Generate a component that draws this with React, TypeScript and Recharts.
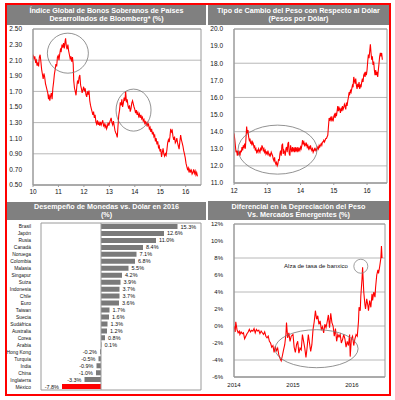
import React from 'react';
import {
  LineChart, Line, XAxis, YAxis, CartesianGrid, ReferenceArea, ReferenceDot, ReferenceLine,
  BarChart, Bar, Cell, LabelList,
} from 'recharts';

const FONT = '"Liberation Sans", Arial, sans-serif';

// ---------- Panel 1: Bloomberg developed sovereign bond index (%) ----------
const bondSeries: [number, number][] = [
  [10.00, 2.17], [10.04, 2.12], [10.07, 2.15], [10.10, 2.08], [10.13, 2.10], [10.16, 2.03], [10.19, 2.06],
  [10.22, 2.02], [10.25, 2.14], [10.28, 2.17], [10.31, 2.08], [10.34, 1.98], [10.37, 1.92], [10.40, 1.86],
  [10.43, 1.93], [10.46, 1.88], [10.49, 1.80], [10.52, 1.76], [10.55, 1.72], [10.58, 1.68], [10.61, 1.60],
  [10.63, 1.66], [10.66, 1.58], [10.69, 1.64], [10.72, 1.68], [10.75, 1.60], [10.78, 1.74], [10.81, 1.82],
  [10.84, 1.92], [10.87, 1.98], [10.90, 2.05], [10.93, 2.02], [10.96, 2.14], [10.99, 2.16], [11.02, 2.10],
  [11.05, 2.18], [11.08, 2.24], [11.11, 2.22], [11.14, 2.30], [11.17, 2.26], [11.20, 2.32], [11.23, 2.25],
  [11.26, 2.34], [11.28, 2.38], [11.31, 2.28], [11.34, 2.24], [11.37, 2.30], [11.40, 2.22], [11.43, 2.17],
  [11.46, 2.12], [11.49, 2.15], [11.52, 2.08], [11.55, 2.14], [11.58, 2.05], [11.60, 1.84], [11.63, 1.74],
  [11.66, 1.70], [11.69, 1.65], [11.72, 1.76], [11.75, 1.84], [11.78, 1.80], [11.81, 1.88], [11.84, 1.91],
  [11.87, 1.78], [11.90, 1.74], [11.93, 1.68], [11.96, 1.72], [11.99, 1.76], [12.02, 1.70], [12.05, 1.74],
  [12.08, 1.66], [12.11, 1.63], [12.14, 1.70], [12.17, 1.66], [12.20, 1.71], [12.23, 1.58], [12.26, 1.52],
  [12.29, 1.48], [12.32, 1.44], [12.35, 1.40], [12.38, 1.44], [12.41, 1.36], [12.44, 1.40], [12.47, 1.31],
  [12.50, 1.28], [12.53, 1.33], [12.56, 1.27], [12.59, 1.30], [12.62, 1.26], [12.65, 1.31], [12.68, 1.27],
  [12.71, 1.30], [12.74, 1.33], [12.77, 1.26], [12.80, 1.28], [12.83, 1.24], [12.86, 1.27], [12.89, 1.22],
  [12.92, 1.25], [12.95, 1.30], [12.98, 1.26], [13.01, 1.30], [13.04, 1.33], [13.07, 1.36], [13.10, 1.30],
  [13.13, 1.27], [13.16, 1.32], [13.19, 1.26], [13.22, 1.20], [13.25, 1.17], [13.28, 1.15], [13.31, 1.11],
  [13.34, 1.26], [13.37, 1.40], [13.40, 1.46], [13.43, 1.56], [13.46, 1.52], [13.49, 1.60], [13.52, 1.50],
  [13.55, 1.55], [13.58, 1.62], [13.61, 1.58], [13.64, 1.70], [13.67, 1.56], [13.70, 1.60], [13.73, 1.52],
  [13.76, 1.48], [13.79, 1.52], [13.82, 1.44], [13.85, 1.48], [13.88, 1.55], [13.91, 1.58], [13.94, 1.54],
  [13.97, 1.50], [14.00, 1.47], [14.03, 1.42], [14.06, 1.46], [14.09, 1.40], [14.12, 1.43], [14.15, 1.38],
  [14.18, 1.41], [14.21, 1.36], [14.24, 1.40], [14.27, 1.35], [14.30, 1.37], [14.33, 1.32], [14.36, 1.34],
  [14.39, 1.29], [14.42, 1.31], [14.45, 1.27], [14.48, 1.30], [14.51, 1.26], [14.54, 1.28], [14.57, 1.22],
  [14.60, 1.24], [14.63, 1.18], [14.66, 1.22], [14.69, 1.15], [14.72, 1.18], [14.75, 1.12], [14.78, 1.14],
  [14.81, 1.06], [14.84, 1.10], [14.87, 1.02], [14.90, 1.06], [14.93, 0.98], [14.96, 1.00], [14.99, 0.93],
  [15.02, 0.96], [15.05, 0.86], [15.08, 0.92], [15.11, 0.97], [15.14, 0.90], [15.17, 0.87], [15.20, 0.90],
  [15.23, 0.88], [15.26, 0.95], [15.29, 1.04], [15.32, 1.08], [15.35, 1.05], [15.38, 1.12], [15.41, 1.22],
  [15.44, 1.18], [15.47, 1.20], [15.50, 1.12], [15.53, 1.08], [15.56, 1.12], [15.59, 1.04], [15.62, 1.06],
  [15.65, 1.10], [15.68, 1.04], [15.71, 1.00], [15.74, 0.96], [15.77, 1.06], [15.80, 1.14], [15.83, 1.08],
  [15.86, 1.04], [15.89, 1.00], [15.92, 0.94], [15.95, 0.90], [15.98, 0.85], [16.01, 0.78], [16.04, 0.74],
  [16.07, 0.70], [16.10, 0.72], [16.13, 0.66], [16.16, 0.70], [16.19, 0.67], [16.22, 0.69], [16.25, 0.64],
  [16.28, 0.66], [16.31, 0.70], [16.34, 0.65], [16.37, 0.68], [16.40, 0.63], [16.43, 0.66], [16.46, 0.61],
];
const bondXTicks = [10, 11, 12, 13, 14, 15, 16];
const bondYTicks = [0.5, 0.7, 0.9, 1.1, 1.3, 1.5, 1.7, 1.9, 2.1, 2.3, 2.5];
const bondCircles: [number, number][] = [[11.37, 2.19], [13.95, 1.46]];

// ---------- Panel 2: Peso per dollar ----------
const pesoSeries: [number, number][] = [
  [12.00, 13.9], [12.02, 13.6], [12.04, 13.2], [12.06, 12.8], [12.08, 12.9], [12.10, 12.6], [12.12, 12.9],
  [12.14, 12.7], [12.16, 12.8], [12.18, 12.6], [12.20, 12.9], [12.22, 12.8], [12.24, 13.1], [12.26, 12.9],
  [12.28, 13.2], [12.30, 13.1], [12.32, 13.3], [12.34, 13.0], [12.36, 13.6], [12.38, 14.3], [12.40, 13.9],
  [12.42, 14.1], [12.44, 13.7], [12.46, 13.5], [12.48, 13.6], [12.50, 13.3], [12.52, 13.4], [12.54, 13.2],
  [12.56, 13.4], [12.58, 13.3], [12.60, 13.1], [12.62, 13.2], [12.64, 12.9], [12.66, 13.0], [12.68, 12.8],
  [12.70, 12.9], [12.72, 12.8], [12.74, 13.0], [12.76, 12.9], [12.78, 12.8], [12.80, 13.0], [12.82, 12.9],
  [12.84, 13.2], [12.86, 13.1], [12.88, 12.9], [12.90, 13.0], [12.92, 12.8], [12.94, 12.9], [12.96, 12.7],
  [12.98, 12.8], [13.00, 12.7], [13.02, 12.9], [13.04, 12.7], [13.06, 12.6], [13.08, 12.7], [13.10, 12.6],
  [13.12, 12.8], [13.14, 12.7], [13.16, 12.6], [13.18, 12.4], [13.20, 12.3], [13.22, 12.5], [13.24, 12.2],
  [13.26, 12.1], [13.28, 12.2], [13.30, 12.0], [13.32, 12.1], [13.34, 12.4], [13.36, 12.3], [13.38, 12.7],
  [13.40, 12.9], [13.42, 12.6], [13.44, 13.2], [13.46, 13.3], [13.48, 12.7], [13.50, 12.9], [13.52, 12.8],
  [13.54, 12.6], [13.56, 13.0], [13.58, 13.1], [13.60, 12.8], [13.62, 13.3], [13.64, 13.4], [13.66, 12.7],
  [13.68, 12.6], [13.70, 13.2], [13.72, 13.0], [13.74, 12.8], [13.76, 13.1], [13.78, 12.9], [13.80, 13.0],
  [13.82, 12.8], [13.84, 13.1], [13.86, 12.9], [13.88, 13.0], [13.90, 12.8], [13.92, 13.1], [13.94, 12.9],
  [13.96, 13.0], [13.98, 12.9], [14.00, 13.1], [14.02, 13.0], [14.04, 13.2], [14.06, 13.5], [14.08, 13.3],
  [14.10, 13.4], [14.12, 13.2], [14.14, 13.3], [14.16, 13.2], [14.18, 13.3], [14.20, 13.1], [14.22, 13.2],
  [14.24, 13.0], [14.26, 13.1], [14.28, 13.0], [14.30, 13.2], [14.32, 13.0], [14.34, 12.9], [14.36, 13.0],
  [14.38, 12.8], [14.40, 12.9], [14.42, 13.0], [14.44, 12.9], [14.46, 13.0], [14.48, 12.9], [14.50, 13.0],
  [14.52, 13.1], [14.54, 13.0], [14.56, 13.2], [14.58, 13.1], [14.60, 13.2], [14.62, 13.3], [14.64, 13.2],
  [14.66, 13.4], [14.68, 13.4], [14.70, 13.5], [14.72, 13.4], [14.74, 13.5], [14.76, 13.6], [14.78, 13.6],
  [14.80, 13.7], [14.82, 13.8], [14.84, 14.3], [14.86, 14.8], [14.88, 14.7], [14.90, 14.8], [14.92, 14.6],
  [14.94, 14.9], [14.96, 14.7], [14.98, 14.6], [15.00, 14.9], [15.02, 15.0], [15.04, 14.8], [15.06, 15.1],
  [15.08, 14.9], [15.10, 15.2], [15.12, 15.5], [15.14, 15.2], [15.16, 15.4], [15.18, 15.3], [15.20, 15.1],
  [15.22, 15.4], [15.24, 15.2], [15.26, 15.5], [15.28, 15.3], [15.30, 15.4], [15.32, 15.6], [15.34, 15.5],
  [15.36, 15.3], [15.38, 15.7], [15.40, 15.5], [15.42, 15.8], [15.44, 16.0], [15.46, 16.3], [15.48, 16.2],
  [15.50, 16.4], [15.52, 16.3], [15.54, 16.5], [15.56, 16.7], [15.58, 16.6], [15.60, 17.2], [15.62, 17.0],
  [15.64, 16.8], [15.66, 17.1], [15.68, 16.7], [15.70, 16.5], [15.72, 16.8], [15.74, 16.6], [15.76, 16.9],
  [15.78, 16.5], [15.80, 16.7], [15.82, 16.6], [15.84, 16.9], [15.86, 17.1], [15.88, 16.9], [15.90, 17.3],
  [15.92, 17.4], [15.94, 17.2], [15.96, 17.5], [15.98, 17.3], [16.00, 17.6], [16.02, 18.1], [16.04, 18.5],
  [16.06, 18.3], [16.08, 18.7], [16.10, 19.1], [16.12, 18.6], [16.14, 18.2], [16.16, 18.4], [16.18, 17.9],
  [16.20, 18.1], [16.22, 17.6], [16.24, 17.3], [16.26, 17.6], [16.28, 17.3], [16.30, 17.5], [16.32, 17.2],
  [16.34, 17.6], [16.36, 18.0], [16.38, 18.4], [16.40, 18.6], [16.42, 18.4], [16.44, 18.6], [16.46, 18.2],
];
const pesoXTicks = [12, 13, 14, 15, 16];
const pesoYTicks = [11, 12, 13, 14, 15, 16, 17, 18, 19, 20];
const pesoEllipse: [number, number] = [13.31, 12.95];

// ---------- Panel 3: Currency performance vs USD in 2016 ----------
const currencies = [
  'Brasil', 'Japón', 'Rusia', 'Canadá', 'Noruega', 'Colombia', 'Malasia', 'Singapur', 'Suiza', 'Indonesia',
  'Chile', 'Euro', 'Taiwan', 'Suecia', 'Sudáfrica', 'Australia', 'Corea', 'Arabia', 'Hong Kong', 'Turquía',
  'India', 'China', 'Inglaterra', 'México',
];
const currencyChange = [
  15.3, 12.6, 11.0, 8.4, 7.1, 6.8, 5.5, 4.2, 3.9, 3.7, 3.7, 3.6, 1.7, 1.6, 1.3, 1.2, 0.8, 0.1, -0.2, -0.5,
  -0.9, -1.0, -3.3, -7.8,
];
const highlightCurrency = 'México';

// ---------- Panel 4: Peso depreciation differential vs EM (%) ----------
const diffSeries: [number, number][] = [
  [2014.00, 0.0], [2014.02, -0.7], [2014.03, 0.5], [2014.05, -0.4], [2014.07, -0.8], [2014.09, -0.6],
  [2014.10, -1.0], [2014.12, -0.7], [2014.14, -0.9], [2014.16, -0.8], [2014.18, -1.5], [2014.20, -1.2],
  [2014.22, -0.9], [2014.24, -0.7], [2014.26, -0.4], [2014.28, -0.7], [2014.30, -0.5], [2014.32, -0.6],
  [2014.34, -0.3], [2014.36, -0.8], [2014.38, -0.4], [2014.40, -0.6], [2014.42, -0.5], [2014.44, -0.9],
  [2014.46, -0.6], [2014.48, -0.8], [2014.50, -1.0], [2014.52, -0.7], [2014.54, -1.2], [2014.56, -1.4],
  [2014.58, -1.2], [2014.60, -1.8], [2014.62, -2.0], [2014.64, -2.5], [2014.66, -2.3], [2014.68, -3.1],
  [2014.70, -2.4], [2014.72, -2.9], [2014.74, -2.6], [2014.76, -3.4], [2014.78, -3.8], [2014.80, -4.1],
  [2014.82, -3.5], [2014.84, -2.8], [2014.86, -2.2], [2014.88, -1.0], [2014.89, 0.4], [2014.91, -1.4],
  [2014.93, -0.8], [2014.95, -1.8], [2014.97, -1.2], [2015.00, -1.0], [2015.02, -2.5], [2015.04, -3.1],
  [2015.06, -2.2], [2015.08, -1.8], [2015.10, -3.2], [2015.12, -2.6], [2015.14, -2.8], [2015.16, -1.0],
  [2015.18, -1.8], [2015.20, -2.6], [2015.22, -3.7], [2015.24, -2.5], [2015.26, -1.0], [2015.28, -2.0],
  [2015.30, -3.0], [2015.32, -2.2], [2015.34, -0.4], [2015.36, 0.5], [2015.38, 1.8], [2015.40, 0.8],
  [2015.42, 1.2], [2015.44, 0.2], [2015.46, 0.6], [2015.48, -0.4], [2015.50, -0.1], [2015.52, -0.8],
  [2015.54, 0.2], [2015.56, -0.2], [2015.58, 0.5], [2015.60, 1.3], [2015.62, -0.2], [2015.64, 1.5],
  [2015.66, 0.4], [2015.68, 0.0], [2015.70, -1.2], [2015.72, -0.3], [2015.74, -1.8], [2015.76, -1.0],
  [2015.78, -1.3], [2015.80, -1.0], [2015.82, -2.0], [2015.84, -1.6], [2015.86, -1.0], [2015.88, -1.5],
  [2015.90, -2.5], [2015.92, -1.8], [2015.94, -2.3], [2015.96, -1.0], [2015.97, -3.6], [2015.99, -1.5],
  [2016.01, -1.2], [2016.03, -2.3], [2016.05, -1.5], [2016.07, -1.0], [2016.09, -1.2], [2016.11, 0.5],
  [2016.12, 2.2], [2016.14, 1.8], [2016.15, 3.5], [2016.17, 5.5], [2016.18, 6.9], [2016.20, 4.0],
  [2016.22, 2.5], [2016.23, 2.0], [2016.25, 3.2], [2016.27, 2.4], [2016.28, 1.8], [2016.30, 3.0],
  [2016.32, 2.2], [2016.34, 3.8], [2016.35, 3.0], [2016.37, 4.0], [2016.39, 3.4], [2016.40, 4.5],
  [2016.42, 6.0], [2016.44, 6.6], [2016.45, 6.2], [2016.47, 7.0], [2016.49, 8.0], [2016.50, 9.4],
  [2016.51, 8.0],
];
const diffXTicks = [2014, 2015, 2016];
const diffYTicks = [-6, -4, -2, 0, 2, 4, 6, 8, 10, 12];
const diffEllipse: [number, number] = [2015.40, -2.67];
const banxicoPoint: [number, number] = [2016.15, 7.03];
const banxicoNote = 'Alza de tasa de banxico';

const titles = {
  bond: ['Índice Global de Bonos Soberanos de Países', 'Desarrollados de Bloomberg* (%)'],
  peso: ['Tipo de Cambio del Peso con Respecto al Dólar', '(Pesos por Dólar)'],
  fx: ['Desempeño de Monedas vs. Dólar en 2016', '(%)'],
  diff: ['Diferencial en la Depreciación del Peso', 'Vs. Mercados Emergentes (%)'],
};

const bondData = bondSeries.map(([x, y]) => ({ x, y }));
const pesoData = pesoSeries.map(([x, y]) => ({ x, y }));
const diffData = diffSeries.map(([x, y]) => ({ x, y }));
const fxData = currencies.map((name, i) => ({ name, value: currencyChange[i] }));

const GRID = '#b8b8b8';
const BOX = '#9a9a9a';
const RED = '#ff0000';
const tickStyle = { fontSize: 6.5, fill: '#111', fontFamily: FONT };

const Header = ({ lines, left, top, width, height }: any) => (
  <div
    style={{
      position: 'absolute', left, top, width, height, background: '#808080', color: '#fff',
      fontFamily: FONT, fontWeight: 'bold', fontSize: 7.2, lineHeight: '8px', display: 'flex',
      flexDirection: 'column', alignItems: 'center', justifyContent: 'center', textAlign: 'center',
    }}
  >
    {lines.map((l: string) => (<div key={l}>{l}</div>))}
  </div>
);

const ellipseShape = (rx: number, ry: number) => (props: any) => (
  <ellipse cx={props.cx} cy={props.cy} rx={rx} ry={ry} fill="none" stroke="#777" strokeWidth={0.8} />
);

const banxicoShape = (props: any) => (
  <g>
    <circle cx={props.cx} cy={props.cy} r={7} fill="none" stroke="#888" strokeWidth={0.8} />
    <text x={props.cx - 13} y={props.cy + 2} textAnchor="end" fontSize={6} fontFamily={FONT} fill="#111">
      {banxicoNote}
    </text>
  </g>
);

const CategoryTick = (props: any) => (
  <text x={props.x} y={props.y} dy={2} textAnchor="end" fontSize={4.9} fontFamily={FONT} fill="#111">
    {props.payload.value}
  </text>
);

const fxLabel = (props: any) => {
  const { x, y, width, height, value } = props;
  const a = Number(x);
  const b = Number(x) + Number(width);
  const end = value >= 0 ? Math.max(a, b) : Math.min(a, b);
  const cy = Number(y) + Number(height) / 2;
  return (
    <text
      x={value >= 0 ? end + 3 : end - 3}
      y={cy + 2}
      textAnchor={value >= 0 ? 'start' : 'end'}
      fontSize={5.5}
      fontFamily={FONT}
      fill="#111"
    >
      {`${Number(value).toFixed(1)}%`}
    </text>
  );
};

export default function App() {
  return (
    <div style={{ position: 'absolute', left: 0, top: 0, width: 395, height: 400, background: '#fff', overflow: 'hidden' }}>
      {/* Panel 1 */}
      <div style={{ position: 'absolute', left: 0, top: 0 }}>
        <LineChart width={210} height={200} data={bondData} margin={{ top: 29, right: 9, bottom: 0, left: 0 }}>
          <CartesianGrid horizontal vertical={false} stroke={GRID} />
          <XAxis dataKey="x" type="number" domain={[10, 16.6]} ticks={bondXTicks} allowDataOverflow height={15}
            tickSize={2} tickMargin={2} tick={tickStyle} stroke={BOX} />
          <YAxis type="number" domain={[0.5, 2.5]} ticks={bondYTicks} width={33} tickLine={false} tickMargin={5}
            tickFormatter={(v: number) => v.toFixed(2)} tick={tickStyle} stroke={BOX} />
          <ReferenceArea x1={10} x2={16.6} y1={0.5} y2={2.5} fill="none" stroke={BOX} strokeOpacity={1} fillOpacity={0} />
          <Line dataKey="y" stroke={RED} strokeWidth={1.1} dot={false} isAnimationActive={false} />
          {bondCircles.map(([cx, cy], i) => (
            <ReferenceDot key={i} x={cx} y={cy} ifOverflow="visible" shape={ellipseShape(i === 0 ? 20.5 : 17.5, i === 0 ? 20 : 21)} />
          ))}
        </LineChart>
      </div>

      {/* Panel 2 */}
      <div style={{ position: 'absolute', left: 205, top: 0 }}>
        <LineChart width={190} height={200} data={pesoData} margin={{ top: 29, right: 8, bottom: 0, left: 0 }}>
          <CartesianGrid horizontal vertical={false} stroke={GRID} />
          <XAxis dataKey="x" type="number" domain={[12, 16.6]} ticks={pesoXTicks} allowDataOverflow height={17}
            tickSize={2} tickMargin={3} tick={tickStyle} stroke={BOX} />
          <YAxis type="number" domain={[11, 20]} ticks={pesoYTicks} width={29} tickLine={false} tickMargin={5}
            tickFormatter={(v: number) => v.toFixed(1)} tick={tickStyle} stroke={BOX} />
          <ReferenceArea x1={12} x2={16.6} y1={11} y2={20} fill="none" stroke={BOX} strokeOpacity={1} fillOpacity={0} />
          <Line dataKey="y" stroke={RED} strokeWidth={1.1} dot={false} isAnimationActive={false} />
          <ReferenceDot x={pesoEllipse[0]} y={pesoEllipse[1]} ifOverflow="visible" shape={ellipseShape(39.5, 24.5)} />
        </LineChart>
      </div>

      {/* Panel 3 */}
      <div style={{ position: 'absolute', left: 0, top: 200 }}>
        <BarChart width={205} height={200} data={fxData} layout="vertical"
          margin={{ top: 23, right: 4, bottom: 10, left: 0 }} barSize={5}>
          <XAxis type="number" domain={[-12, 20]} hide allowDataOverflow />
          <YAxis type="category" dataKey="name" width={41} tickLine={false} axisLine={false} tickMargin={4}
            interval={0} tick={CategoryTick} />
          <ReferenceArea x1={-12} x2={20} fill="none" stroke={BOX} strokeOpacity={1} fillOpacity={0} />
          <ReferenceLine x={0} stroke={BOX} />
          <Bar dataKey="value" isAnimationActive={false}>
            {fxData.map((d) => (
              <Cell key={d.name} fill={d.name === highlightCurrency ? RED : '#7a7a7a'} />
            ))}
            <LabelList dataKey="value" content={fxLabel} />
          </Bar>
        </BarChart>
      </div>

      {/* Panel 4 */}
      <div style={{ position: 'absolute', left: 205, top: 200 }}>
        <LineChart width={190} height={200} data={diffData} margin={{ top: 24, right: 10, bottom: 0, left: 0 }}>
          <CartesianGrid horizontal vertical={false} stroke={GRID} />
          <XAxis dataKey="x" type="number" domain={[2014, 2016.56]} ticks={diffXTicks} allowDataOverflow height={23}
            tickSize={0} tickMargin={6} tick={{ ...tickStyle, fontSize: 6 }} stroke={BOX} />
          <YAxis type="number" domain={[-6, 12]} ticks={diffYTicks} width={29} tickLine={false} tickMargin={5}
            tickFormatter={(v: number) => `${v}%`} tick={{ ...tickStyle, fontSize: 6 }} stroke={BOX} />
          <ReferenceArea x1={2014} x2={2016.56} y1={-6} y2={12} fill="none" stroke={BOX} strokeOpacity={1} fillOpacity={0} />
          <Line dataKey="y" stroke={RED} strokeWidth={1.1} dot={false} isAnimationActive={false} />
          <ReferenceDot x={diffEllipse[0]} y={diffEllipse[1]} ifOverflow="visible" shape={ellipseShape(41.5, 19)} />
          <ReferenceDot x={banxicoPoint[0]} y={banxicoPoint[1]} ifOverflow="visible" shape={banxicoShape} />
        </LineChart>
      </div>

      <Header lines={titles.bond} left={7} top={5} width={199} height={20} />
      <Header lines={titles.peso} left={208} top={5} width={181} height={20} />
      <Header lines={titles.fx} left={7} top={202} width={199} height={18} />
      <Header lines={titles.diff} left={208} top={201} width={181} height={19} />

      <div style={{ position: 'absolute', left: 5, top: 3, width: 386, height: 393, border: '2.5px solid #ff0000', boxSizing: 'border-box', pointerEvents: 'none' }} />
    </div>
  );
}
